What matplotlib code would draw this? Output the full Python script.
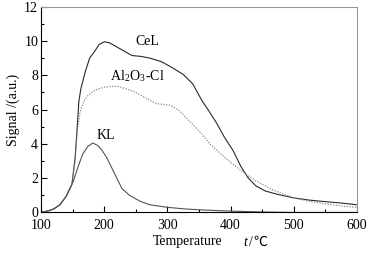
import matplotlib
matplotlib.use('Agg')
from matplotlib import pyplot as plt
import matplotlib.ticker as mtick

plt.rcParams['font.family'] = ['Liberation Serif', 'Noto Sans CJK SC', 'DejaVu Sans']
plt.rcParams['mathtext.fontset'] = 'stix'

# CeL
cel_t = [100, 110, 120, 130, 140, 149, 154, 157, 160, 163, 170, 177, 185, 192, 200, 208, 220, 232,
         244, 258, 272, 290, 305, 325, 340, 355, 366, 378, 390, 404, 416, 428, 440, 455, 475, 500,
         525, 550, 575, 600]
cel_v = [0.0, 0.08, 0.2, 0.45, 0.95, 1.65, 3.2, 4.8, 6.5, 7.2, 8.2, 9.0, 9.4, 9.8, 9.95, 9.9, 9.65, 9.4,
         9.15, 9.1, 9.0, 8.8, 8.5, 8.05, 7.5, 6.5, 5.9, 5.2, 4.4, 3.6, 2.7, 2.0, 1.55, 1.25, 1.05, 0.85,
         0.72, 0.63, 0.55, 0.45]

# Al2O3-Cl
al_t = [100, 110, 120, 130, 140, 149, 154, 157, 162, 168, 174, 182, 190, 200, 210, 222, 236, 250,
        262, 272, 282, 293, 305, 320, 330, 341, 355, 367, 385, 404, 420, 431, 447, 465, 480, 500,
        525, 550, 575, 600]
al_v = [0.0, 0.08, 0.2, 0.45, 0.95, 1.7, 3.0, 4.6, 5.9, 6.5, 6.8, 7.05, 7.2, 7.3, 7.35, 7.35, 7.2, 7.0,
        6.75, 6.55, 6.35, 6.3, 6.25, 5.9, 5.5, 5.1, 4.55, 4.0, 3.4, 2.8, 2.35, 2.05, 1.7, 1.35, 1.12, 0.85,
        0.65, 0.5, 0.38, 0.3]

# KL
kl_t = [100, 110, 120, 130, 140, 151, 158, 166, 174, 182, 190, 197, 204, 212, 220, 228, 240, 257,
        272, 300, 330, 360, 400, 450, 500, 550, 600]
kl_v = [0.0, 0.08, 0.2, 0.45, 0.95, 1.8, 2.6, 3.4, 3.85, 4.05, 3.9, 3.6, 3.2, 2.6, 2.0, 1.4, 1.0, 0.65,
        0.45, 0.3, 0.2, 0.14, 0.08, 0.03, 0.0, 0.0, 0.0]

fig = plt.figure(figsize=(3.74, 2.56), dpi=100)
ax = fig.add_axes([0.1096, 0.170, 0.845, 0.804])

ax.plot(cel_t, cel_v, color='#2a2a2a', linewidth=0.8)
ax.plot(al_t, al_v, color='#8a8a8a', linewidth=0.9, linestyle=(0, (1, 1.2)))
ax.plot(kl_t, kl_v, color='#555555', linewidth=0.8)

ax.text(269, 9.95, 'CeL', fontsize=10, ha='center', va='center')
ax.text(253, 7.95, r'Al$_\mathregular{2}$O$_\mathregular{3}$-Cl', fontsize=10, ha='center', va='center')
ax.text(203, 4.5, 'KL', fontsize=10, ha='center', va='center')

ax.set_xlim(100, 600)
ax.set_ylim(0, 12)
ax.xaxis.set_major_locator(mtick.MultipleLocator(100))
ax.xaxis.set_minor_locator(mtick.MultipleLocator(50))
ax.yaxis.set_major_locator(mtick.MultipleLocator(2))
ax.yaxis.set_minor_locator(mtick.MultipleLocator(1))
ax.tick_params(which='both', direction='in', labelsize=10, width=0.8)
ax.tick_params(axis='x', pad=5)
ax.tick_params(axis='y', pad=2)
ax.tick_params(which='major', length=4)
ax.tick_params(which='minor', length=2.5)

for s in ['left', 'bottom']:
    ax.spines[s].set_color('black')
    ax.spines[s].set_linewidth(0.8)
for s in ['top', 'right']:
    ax.spines[s].set_color('#999999')
    ax.spines[s].set_linewidth(0.8)

# x 轴标题分三段写, 以便 t 用斜体, ℃ 用 CJK 字体
fig.text(188 / 374, 1 - 242 / 256, 'Temperature', fontsize=10, ha='center', va='center')
fig.text(245 / 374, 1 - 242 / 256, 't', fontsize=10, fontstyle='italic', ha='center', va='center')
fig.text(249 / 374, 1 - 242 / 256, '/', fontsize=10, ha='left', va='center')
fig.text(253 / 374, 1 - 242 / 256, '℃', fontsize=10, ha='left', va='center',
         family=['Noto Sans CJK SC', 'DejaVu Sans'])
ax.set_ylabel('Signal /(a.u.)', fontsize=10, labelpad=3)

fig.savefig('out.png', dpi=100)
